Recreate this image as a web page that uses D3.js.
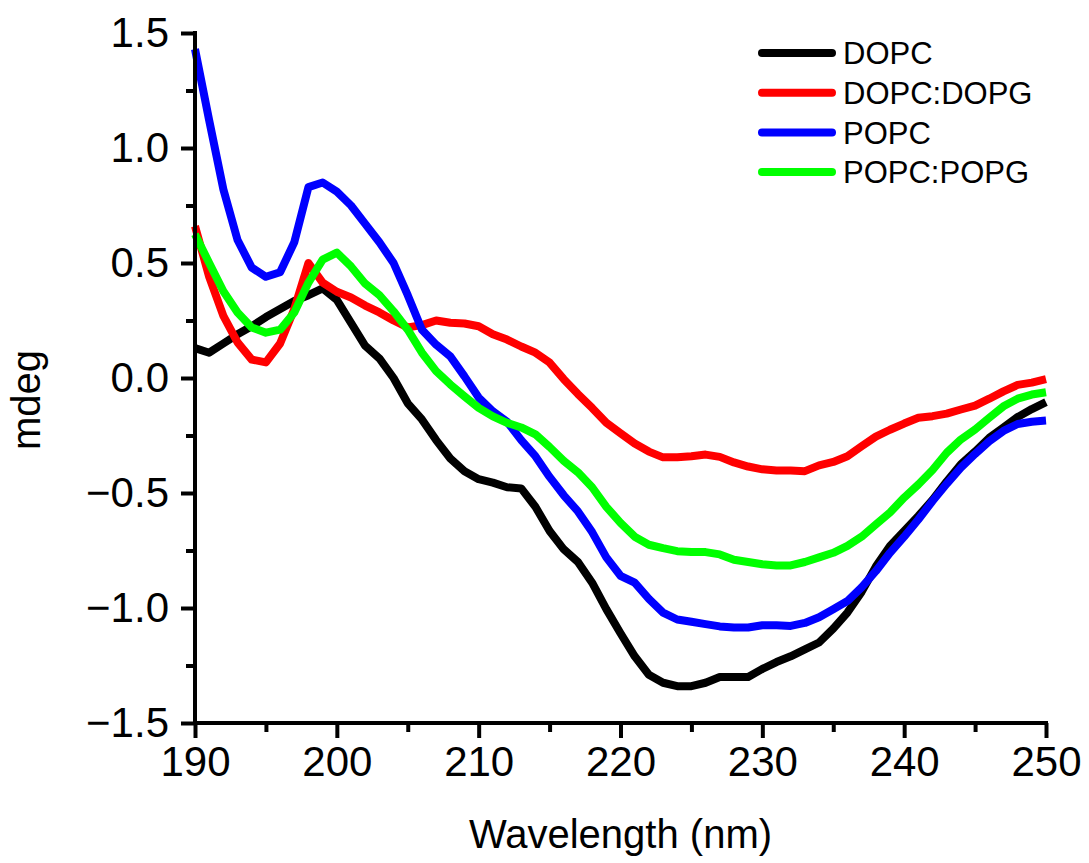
<!DOCTYPE html>
<html>
<head>
<meta charset="utf-8">
<script src="https://cdn.jsdelivr.net/npm/d3@7"></script>
<style>
  body { margin: 0; background: #fff; }
  svg { display: block; font-family: Arial, "Liberation Sans", sans-serif; }
</style>
</head>
<body>
<svg id="chart" width="1089" height="863"></svg>
<script>
const wavelength = d3.range(190, 251)

const dopc = [
  0.13, 0.11, 0.15, 0.19, 0.225, 0.265, 0.30, 0.335, 0.36, 0.39,
  0.34, 0.24, 0.14, 0.085, 0.0, -0.11, -0.18, -0.27, -0.35, -0.405,
  -0.44, -0.455, -0.475, -0.48, -0.56, -0.665, -0.745, -0.80, -0.89, -1.005,
  -1.11, -1.21, -1.29, -1.325, -1.34, -1.34, -1.325, -1.30, -1.30, -1.30,
  -1.265, -1.235, -1.21, -1.18, -1.15, -1.09, -1.02, -0.93, -0.82, -0.73,
  -0.665, -0.60, -0.53, -0.45, -0.375, -0.32, -0.26, -0.215, -0.17, -0.135,
  -0.105
]

const dopcDopg = [
  0.66, 0.44, 0.27, 0.155, 0.08, 0.068, 0.15, 0.30, 0.50, 0.415,
  0.375, 0.35, 0.315, 0.285, 0.25, 0.22, 0.23, 0.25, 0.24, 0.237,
  0.225, 0.19, 0.167, 0.137, 0.11, 0.067, -0.005, -0.07, -0.13, -0.195,
  -0.24, -0.285, -0.32, -0.345, -0.345, -0.34, -0.333, -0.343, -0.367, -0.385,
  -0.397, -0.402, -0.402, -0.405, -0.38, -0.365, -0.34, -0.297, -0.255, -0.225,
  -0.198, -0.173, -0.166, -0.155, -0.137, -0.12, -0.09, -0.058, -0.03, -0.02,
  -0.005
]

const popc = [
  1.43, 1.12, 0.82, 0.60, 0.48, 0.44, 0.46, 0.59, 0.83, 0.85,
  0.81, 0.75, 0.67, 0.59, 0.50, 0.36, 0.21, 0.145, 0.094, 0.007,
  -0.085, -0.145, -0.19, -0.27, -0.34, -0.43, -0.51, -0.58, -0.67, -0.78,
  -0.86, -0.89, -0.96, -1.02, -1.05, -1.06, -1.07, -1.08, -1.085, -1.085,
  -1.075, -1.075, -1.078, -1.065, -1.04, -1.005, -0.97, -0.91, -0.84, -0.76,
  -0.69, -0.615, -0.535, -0.46, -0.39, -0.33, -0.275, -0.23, -0.20, -0.19,
  -0.185
]

const popcPopg = [
  0.625, 0.50, 0.377, 0.285, 0.22, 0.197, 0.21, 0.285, 0.415, 0.515,
  0.545, 0.485, 0.41, 0.36, 0.29, 0.21, 0.11, 0.03, -0.028, -0.08,
  -0.13, -0.167, -0.195, -0.215, -0.245, -0.30, -0.36, -0.41, -0.475, -0.56,
  -0.63, -0.69, -0.725, -0.74, -0.753, -0.757, -0.757, -0.767, -0.79, -0.80,
  -0.81, -0.815, -0.815, -0.80, -0.78, -0.76, -0.73, -0.69, -0.637, -0.585,
  -0.52, -0.463, -0.40, -0.325, -0.267, -0.224, -0.173, -0.123, -0.09, -0.072,
  -0.062
]

const seriesNames = ['DOPC', 'DOPC:DOPG', 'POPC', 'POPC:POPG']
const seriesValues = [dopc, dopcDopg, popc, popcPopg]
const seriesColors = ['#000000', '#ff0000', '#0000ff', '#00ff00']

const xMajor = [190, 200, 210, 220, 230, 240, 250]
const xMinor = [195, 205, 215, 225, 235, 245]
const yMajor = [-1.5, -1.0, -0.5, 0.0, 0.5, 1.0, 1.5]
const yMinor = [-1.25, -0.75, -0.25, 0.25, 0.75, 1.25]

const pLeft = 195
const pRight = 1046
const pTop = 33
const pBottom = 723

const svg = d3.select('#chart')

const x = d3.scaleLinear().domain([190, 250]).range([pLeft, pRight])
const y = d3.scaleLinear().domain([-1.5, 1.5]).range([pBottom, pTop])

// lines first, axes drawn over them
const line = d3.line()
  .x((d) => x(d[0]))
  .y((d) => y(d[1]))

seriesValues.forEach((vals, i) => {
  svg.append('path')
    .datum(wavelength.map((w, j) => [w, vals[j]]))
    .attr('d', line)
    .attr('fill', 'none')
    .attr('stroke', seriesColors[i])
    .attr('stroke-width', 8)
    .attr('stroke-linejoin', 'round')
})

// minor ticks
svg.append('g')
  .attr('class', 'xaxis')
  .attr('transform', `translate(0,${pBottom})`)
  .call(d3.axisBottom(x).tickValues(xMinor).tickSize(9).tickFormat(''))
svg.append('g')
  .attr('class', 'yaxis')
  .attr('transform', `translate(${pLeft},0)`)
  .call(d3.axisLeft(y).tickValues(yMinor).tickSize(9).tickFormat(''))

const xAxis = svg.append('g')
  .attr('class', 'xaxis')
  .attr('transform', `translate(0,${pBottom})`)
  .call(d3.axisBottom(x).tickValues(xMajor).tickSize(15).tickPadding(8).tickFormat(d3.format('d')))

const yAxis = svg.append('g')
  .attr('class', 'yaxis')
  .attr('transform', `translate(${pLeft},0)`)
  .call(d3.axisLeft(y).tickValues(yMajor).tickSize(14).tickPadding(12).tickFormat(d3.format('.1f')))

svg.selectAll('.domain').attr('stroke-width', 4).attr('stroke', '#000')
svg.selectAll('.tick line').attr('stroke-width', 4).attr('stroke', '#000')
svg.selectAll('.xaxis .domain').attr('d', `M${pLeft - 2},0H${pRight + 2}`)
svg.selectAll('.yaxis .domain').attr('d', `M0,${pTop - 2}V${pBottom + 2}`)

xAxis.selectAll('text')
  .attr('font-size', 42)
  .attr('fill', '#000')
  .attr('font-family', 'Arial, "Liberation Sans", sans-serif')
yAxis.selectAll('text')
  .attr('font-size', 42)
  .attr('fill', '#000')
  .attr('font-family', 'Arial, "Liberation Sans", sans-serif')

svg.append('text')
  .attr('x', (pLeft + pRight) / 2)
  .attr('y', 848)
  .attr('text-anchor', 'middle')
  .attr('font-size', 40)
  .text('Wavelength (nm)')

svg.append('text')
  .attr('transform', `translate(40,400) rotate(-90)`)
  .attr('text-anchor', 'middle')
  .attr('font-size', 40)
  .text('mdeg')

// legend
const legend = svg.append('g')
seriesNames.forEach((name, i) => {
  const ly = 53 + i * 39.7
  legend.append('line')
    .attr('x1', 762).attr('x2', 832)
    .attr('y1', ly).attr('y2', ly)
    .attr('stroke', seriesColors[i])
    .attr('stroke-width', 8)
    .attr('stroke-linecap', 'round')
  legend.append('text')
    .attr('x', 843)
    .attr('y', ly)
    .attr('dy', '0.36em')
    .attr('font-size', 31)
    .text(name)
})
</script>
</body>
</html>
